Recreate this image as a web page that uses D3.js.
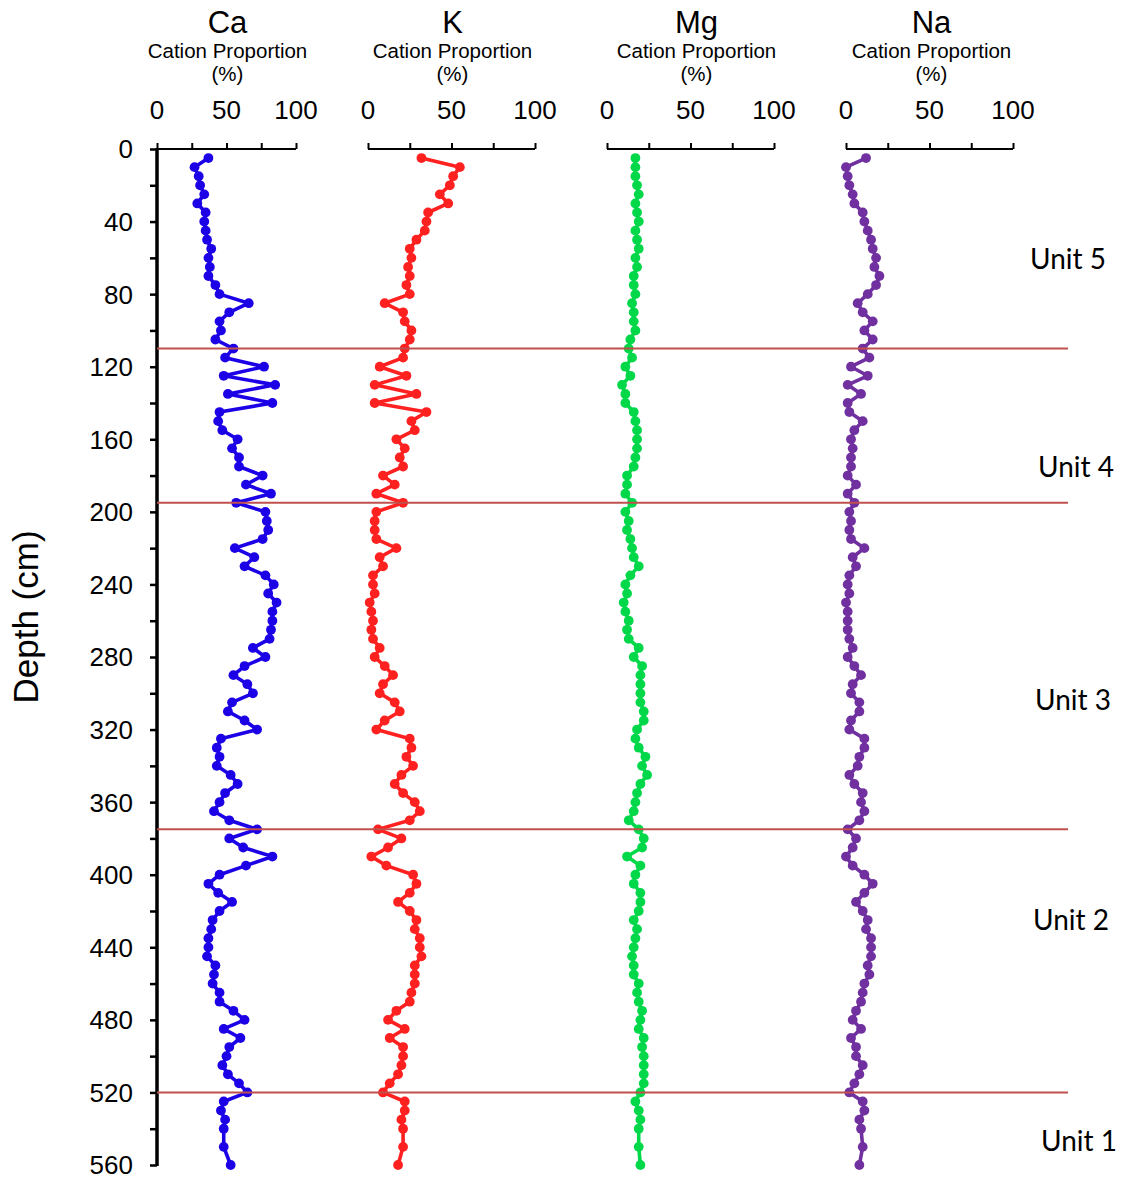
<!DOCTYPE html>
<html><head><meta charset="utf-8">
<script src="https://cdn.jsdelivr.net/npm/d3@7"></script>
<style>html,body{margin:0;padding:0;background:#fff;} svg{display:block;}</style>
</head><body>
<svg id="chart" width="1123" height="1181"></svg>
<script>
// ---------------- DATA ----------------
const depths = [5,10,15,20,25,30,35,40,45,50,55,60,65,70,75,80,85,90,95,100,
  105,110,115,120,125,130,135,140,145,150,155,160,165,170,175,180,185,190,195,200,
  205,210,215,220,225,230,235,240,245,250,255,260,265,270,275,280,
  285,290,295,300,305,310,315,320,325,330,335,340,345,350,355,360,365,370,375,380,
  385,390,395,400,405,410,415,420,425,430,435,440,445,450,455,460,465,470,475,480,
  485,490,495,500,505,510,515,520,525,530,535,540,550,560];

const caValues = [37,27,30,31,34,29,35,34,35,36,39,37,38,37,42,45,66,52,45,46,
  42,55,49,77,48,85,51,83,45,44,47,58,54,59,59,76,64,82,57,78,
  79,80,76,56,70,63,78,84,80,86,83,83,82,81,69,78,
  63,55,65,69,54,51,63,72,46,43,45,43,53,58,49,45,41,52,72,52,
  62,83,64,45,37,44,54,45,40,39,37,37,36,42,41,40,45,45,55,63,
  48,60,52,50,47,51,59,65,48,46,49,48,48,53];

const kValues = [32,55,51,49,43,48,36,35,34,29,25,26,24,25,23,25,10,21,22,26,
  25,22,21,7,23,4,29,4,35,26,28,17,22,19,21,9,16,5,21,5,
  4,4,5,17,7,9,3,3,4,1,2,3,2,3,7,4,
  10,15,9,7,16,19,10,5,25,26,23,27,20,16,21,28,31,25,6,20,
  12,2,11,27,29,25,18,25,29,28,31,31,32,28,28,28,26,25,17,12,
  22,13,21,21,20,18,13,9,22,22,20,21,21,18];

const mgValues = [17,17,17,18,19,17,18,19,17,18,19,17,18,16,16,17,15,16,16,17,
  14,13,15,11,14,9,11,11,16,17,18,18,18,17,16,12,12,11,15,11,
  13,12,14,15,16,19,14,11,12,10,11,13,12,13,19,16,
  21,20,20,20,20,22,22,18,17,19,23,21,24,20,18,17,16,13,19,22,
  21,12,20,17,16,20,20,19,16,18,17,16,15,16,16,19,18,19,21,20,
  19,22,21,22,22,22,22,20,17,19,20,19,19,20];

const naValues = [12,0,1,2,4,5,10,11,13,15,16,18,17,20,18,13,7,10,16,11,
  16,10,14,3,13,1,9,1,2,10,5,3,4,3,3,1,6,1,5,2,
  3,2,3,11,4,6,2,1,2,0,1,1,1,2,4,1,
  5,9,4,3,8,8,3,2,11,11,8,7,2,5,10,9,11,8,1,6,
  4,0,4,11,16,11,6,10,13,12,15,15,15,13,14,11,10,9,6,4,
  9,3,6,6,10,8,5,2,10,11,8,9,10,8];

const elementNames = ["Ca","K","Mg","Na"];
const proportionTicks = [0,50,100];
const proportionMinorTicks = [0,25,50,75,100];
const depthLabelTicks = [0,40,80,120,160,200,240,280,320,360,400,440,480,520,560];
const depthMinorTicks = [0,20,40,60,80,100,120,140,160,180,200,220,240,260,280,300,320,340,360,380,400,420,440,460,480,500,520,540,560];
const unitBoundaries = [110,195,375,520];
const unitNames = ["Unit 5","Unit 4","Unit 3","Unit 2","Unit 1"];

// ---------------- LAYOUT ----------------
const svg = d3.select("#chart");
const FONT = "'Liberation Sans', Arial, sans-serif";
const yTop = 149, yBot = 1165;
const y = d3.scaleLinear().domain([0,560]).range([yTop,yBot]);

const seriesValues = [caValues,kValues,mgValues,naValues];
const colors = ["#1c00e6","#ff2020","#00d84a","#7030a0"];
const panelRanges = [[157,296],[368,535],[607,774],[846,1013]];
const titleOffsets = [1,1,6,2];

const panels = elementNames.map((name,i)=>({
  name, values: seriesValues[i], color: colors[i], off: titleOffsets[i],
  x: d3.scaleLinear().domain([0,100]).range(panelRanges[i])
}));

// Data lines and markers
panels.forEach(p=>{
  const pts = depths.map((d,j)=>({d, v:p.values[j]}));
  const g = svg.append("g");
  g.append("path").datum(pts)
    .attr("fill","none").attr("stroke",p.color).attr("stroke-width",3.6)
    .attr("stroke-linejoin","round")
    .attr("d", d3.line().x(q=>p.x(q.v)).y(q=>y(q.d)));
  g.selectAll("circle").data(pts).join("circle")
    .attr("cx",q=>p.x(q.v)).attr("cy",q=>y(q.d)).attr("r",4.9)
    .attr("fill",p.color);
});

// Top axes for each panel
panels.forEach(p=>{
  const ax = svg.append("g").attr("transform",`translate(0,${yTop})`)
    .call(d3.axisTop(p.x).tickValues(proportionMinorTicks).tickSize(6).tickFormat(""));
  ax.select(".domain").attr("stroke","#000").attr("stroke-width",2)
    .attr("d",`M${p.x(0)},0H${p.x(100)}`);
  ax.selectAll(".tick line").attr("stroke","#000").attr("stroke-width",2);
  svg.append("g").selectAll("text").data(proportionTicks).join("text")
    .attr("x",d=>p.x(d)).attr("y",119)
    .attr("text-anchor","middle").attr("font-family",FONT).attr("font-size",26)
    .attr("fill","#000").text(d=>d);
  const cx = (p.x(0)+p.x(100))/2 + p.off;
  svg.append("text").attr("x",cx).attr("y",33).attr("text-anchor","middle")
    .attr("font-family",FONT).attr("font-size",31).attr("fill","#000").text(p.name);
  svg.append("text").attr("x",cx).attr("y",58).attr("text-anchor","middle")
    .attr("font-family",FONT).attr("font-size",20.5).attr("fill","#000").text("Cation Proportion");
  svg.append("text").attr("x",cx).attr("y",81).attr("text-anchor","middle")
    .attr("font-family",FONT).attr("font-size",20.5).attr("fill","#000").text("(%)");
});

// Depth axis
const yAx = svg.append("g").attr("transform","translate(157,0)")
  .call(d3.axisLeft(y).tickValues(depthMinorTicks).tickSize(7).tickFormat(""));
yAx.select(".domain").attr("stroke","#000").attr("stroke-width",3.5)
  .attr("d",`M0,${yTop-1}V${yBot+1}`);
yAx.selectAll(".tick line").attr("stroke","#000").attr("stroke-width",2.5);
svg.append("g").selectAll("text").data(depthLabelTicks).join("text")
  .attr("x",133).attr("y",d=>y(d)).attr("dy","0.36em")
  .attr("text-anchor","end").attr("font-family",FONT).attr("font-size",26)
  .attr("fill","#000").text(d=>d);

svg.append("text").attr("transform","translate(38,617) rotate(-90)")
  .attr("text-anchor","middle").attr("font-family",FONT).attr("font-size",35)
  .attr("fill","#000").text("Depth (cm)");

// Unit boundary lines
svg.append("g").selectAll("line").data(unitBoundaries).join("line")
  .attr("x1",157).attr("x2",1068).attr("y1",d=>y(d)).attr("y2",d=>y(d))
  .attr("stroke","#c0504d").attr("stroke-width",2);

// Unit labels
const unitLabelPos = [[1030,269],[1038,477],[1035,710],[1033,930],[1041,1151]];
svg.append("g").selectAll("text").data(unitNames).join("text")
  .attr("x",(d,i)=>unitLabelPos[i][0]).attr("y",(d,i)=>unitLabelPos[i][1])
  .attr("font-family","Lato, 'Open Sans', sans-serif").attr("font-size",28)
  .attr("fill","#000").text(d=>d);
</script>
</body></html>
